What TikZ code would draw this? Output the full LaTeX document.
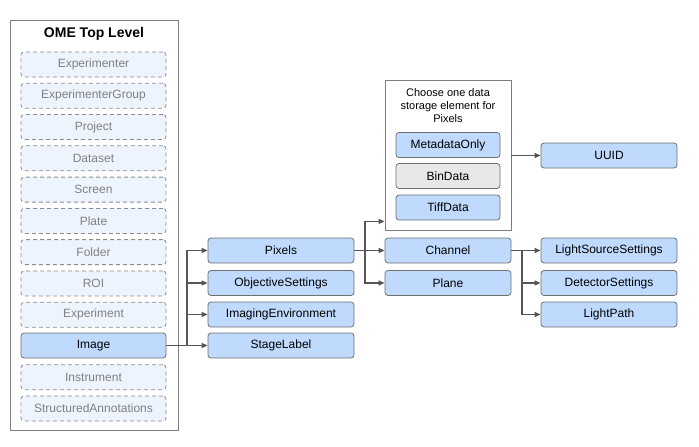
\documentclass[tikz,border=0pt]{standalone}
\usepackage{fontspec}
\setmainfont{Liberation Sans}
\usetikzlibrary{arrows.meta,calc}
\definecolor{boxblue}{HTML}{BFDAFD}
\definecolor{paleblue}{HTML}{EEF4FE}
\definecolor{bordergray}{HTML}{6F6F6F}
\definecolor{textgray}{HTML}{808080}
\definecolor{linegray}{HTML}{555555}
\definecolor{bingray}{HTML}{E8E8E8}
\tikzset{
  base/.style={rounded corners=3pt, line width=0.8pt, minimum height=25pt, inner sep=0pt, font=\fontsize{12}{14}\selectfont},
  topbox/.style={base, draw=bordergray!80, dashed, dash pattern=on 4pt off 3pt, fill=paleblue, text=textgray, minimum width=145pt},
  bluebox/.style={base, draw=bordergray, fill=boxblue, text=black},
  graybox/.style={base, draw=bordergray, fill=bingray, text=black},
  container/.style={draw=bordergray!90, line width=0.8pt, inner sep=0pt},
  arr/.style={draw=linegray, line width=1.4pt, -{Triangle[length=6pt,width=5pt]}},
  ln/.style={draw=linegray, line width=1.4pt}
}
\begin{document}
\begin{tikzpicture}[x=1pt,y=-1pt]
\useasboundingbox (0,0) rectangle (699,447);
% left container
\node[container, minimum width=168pt, minimum height=410pt] (top) at (94,225) {};
\node[font=\bfseries\fontsize{14}{16}\selectfont] (title) at (94,34) {OME Top Level};
\node[topbox] (experimenter) at (93.5,64.5) {Experimenter};
\node[topbox] (expgroup) at (93.5,95.8) {ExperimenterGroup};
\node[topbox] (project) at (93.5,127.0) {Project};
\node[topbox] (dataset) at (93.5,158.3) {Dataset};
\node[topbox] (screen) at (93.5,189.6) {Screen};
\node[topbox] (plate) at (93.5,220.9) {Plate};
\node[topbox] (folder) at (93.5,252.1) {Folder};
\node[topbox] (roi) at (93.5,283.4) {ROI};
\node[topbox] (experiment) at (93.5,314.7) {Experiment};
\node[bluebox, minimum width=145pt] (image) at (93.5,345.5) {Image};
\node[topbox] (instrument) at (93.5,377.2) {Instrument};
\node[topbox] (annotations) at (93.5,408.5) {StructuredAnnotations};
% middle column
\node[bluebox, minimum width=146pt] (pixels) at (281,250.5) {Pixels};
\node[bluebox, minimum width=146pt] (objective) at (281,283) {ObjectiveSettings};
\node[bluebox, minimum width=146pt] (imagingenv) at (281,314.5) {ImagingEnvironment};
\node[bluebox, minimum width=146pt] (stagelabel) at (281,345.5) {StageLabel};
% storage container
\node[container, minimum width=126pt, minimum height=150pt] (store) at (448,155) {};
\node[align=center, font=\fontsize{11}{12.6}\selectfont] (storetitle) at (448,105.5) {Choose one data\\storage element for\\Pixels};
\node[bluebox, minimum width=104pt] (metadata) at (448,145) {MetadataOnly};
\node[graybox, minimum width=104pt] (bindata) at (448,176) {BinData};
\node[bluebox, minimum width=104pt] (tiffdata) at (448,207.5) {TiffData};
\node[bluebox, minimum width=126pt] (channel) at (448,250.5) {Channel};
\node[bluebox, minimum width=126pt] (plane) at (448,283) {Plane};
% right column
\node[bluebox, minimum width=136pt] (uuid) at (609,155.5) {UUID};
\node[bluebox, minimum width=136pt] (lightsource) at (609,250.5) {LightSourceSettings};
\node[bluebox, minimum width=136pt] (detector) at (609,283) {DetectorSettings};
\node[bluebox, minimum width=136pt] (lightpath) at (609,314.5) {LightPath};
% junctions
\coordinate (j1) at (187,345.5);
\coordinate (j2) at (365,250.5);
\coordinate (j3) at (522,250.5);
\coordinate (storein) at ($(store.south west)+(0,-9)$);
% connectors
\draw[ln] (image.east) -- (j1);
\draw[arr] (j1) |- (pixels.west);
\draw[arr] (j1) |- (objective.west);
\draw[arr] (j1) |- (imagingenv.west);
\draw[arr] (j1) -- (stagelabel.west);
\draw[ln] (pixels.east) -- (j2);
\draw[arr] (j2) |- (storein);
\draw[arr] (j2) -- (channel.west);
\draw[arr] (j2) |- (plane.west);
\draw[arr] (store.east |- uuid.west) -- (uuid.west);
\draw[ln] (channel.east) -- (j3);
\draw[arr] (j3) -- (lightsource.west);
\draw[arr] (j3) |- (detector.west);
\draw[arr] (j3) |- (lightpath.west);
\end{tikzpicture}
\end{document}
